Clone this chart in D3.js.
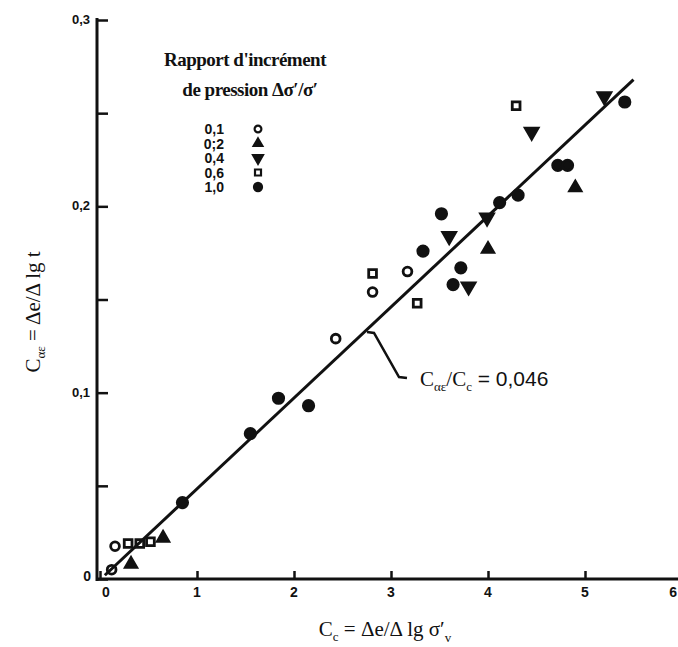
<!DOCTYPE html>
<html>
<head>
<meta charset="utf-8">
<script src="https://cdn.jsdelivr.net/npm/d3@7"></script>
<style>
  body { margin: 0; background: #fff; }
  text { fill: #111; }
</style>
</head>
<body>
<div id="chart"></div>
<script>
// values: [Cc, Cae]
var ratio01 = [[0.12, 0.005], [0.155, 0.0176], [2.43, 0.129], [2.81, 0.154], [3.17, 0.165]];
var ratio02 = [[0.32, 0.008], [0.65, 0.022], [4.0, 0.177], [4.9, 0.210]];
var ratio04 = [[3.6, 0.184], [3.8, 0.157], [3.99, 0.194], [4.45, 0.240], [5.2, 0.259]];
var ratio06 = [[0.29, 0.019], [0.41, 0.019], [0.52, 0.020], [2.81, 0.164], [3.27, 0.148], [4.29, 0.254]];
var ratio10 = [[0.85, 0.041], [1.55, 0.078], [1.84, 0.097], [2.15, 0.093], [3.33, 0.176], [3.52, 0.196],
               [3.64, 0.158], [3.72, 0.167], [4.12, 0.202], [4.31, 0.206], [4.72, 0.222], [4.82, 0.222], [5.41, 0.256]];

var legendLabels = ["0,1", "0;2", "0,4", "0,6", "1,0"];
var xTicks = [0, 1, 2, 3, 4, 5, 6];
var yTicks = [0, 0.05, 0.1, 0.15, 0.2, 0.25, 0.3];
var yTickLabels = {"0.1": "0,1", "0.2": "0,2", "0.3": "0,3"};
var fitLine = [[0.05, 0.002], [5.5, 0.268]];

var svgWidth = 678;
var svgHeight = 647;

var svg = d3.select("#chart")
    .append("svg")
    .attr("width", svgWidth)
    .attr("height", svgHeight);

var xScale = d3.scaleLinear().domain([0, 6]).range([100, 682]);
var yScale = d3.scaleLinear().domain([0, 0.3]).range([579, 20]);

// axes: ticks pointing into the plot
var xAxis = d3.axisTop(xScale).tickValues(xTicks).tickSize(8).tickFormat("");
var yAxis = d3.axisRight(yScale).tickValues(yTicks).tickSize(11).tickFormat("");

var gx = svg.append("g")
    .attr("transform", `translate(0,${yScale(0)})`)
    .call(xAxis);
gx.select(".domain").attr("d", `M97,0H678`);
var gy = svg.append("g")
    .attr("transform", `translate(97,0)`)
    .call(yAxis);
gy.select(".domain").attr("d", `M0,${yScale(0.3) - 2}V${yScale(0) + 2}`);
svg.selectAll(".domain").attr("stroke", "#111").attr("stroke-width", 3);
svg.selectAll(".tick line").attr("stroke", "#111").attr("stroke-width", 2.5);

svg.append("g").selectAll("text")
    .data(xTicks)
    .enter()
    .append("text")
    .attr("x", d => d === 6 ? 677 : xScale(d) + (d === 0 ? 6 : 0))
    .attr("y", yScale(0) + 18)
    .attr("text-anchor", d => d === 6 ? "end" : "middle")
    .style("font", "bold 14px 'Liberation Sans'")
    .text(d => d);

svg.append("g").selectAll("text")
    .data(yTicks.filter(d => yTickLabels[d]))
    .enter()
    .append("text")
    .attr("x", 90)
    .attr("y", d => yScale(d) + 4)
    .attr("text-anchor", "end")
    .style("font", "bold 13px 'Liberation Sans'")
    .text(d => yTickLabels[d]);

svg.append("text")
    .attr("x", 91)
    .attr("y", yScale(0) + 2)
    .attr("text-anchor", "end")
    .style("font", "bold 14px 'Liberation Sans'")
    .text("0");

// regression line
svg.append("line")
    .attr("x1", xScale(fitLine[0][0]))
    .attr("y1", yScale(fitLine[0][1]))
    .attr("x2", xScale(fitLine[1][0]))
    .attr("y2", yScale(fitLine[1][1]))
    .attr("stroke", "#111")
    .attr("stroke-width", 3);

// leader to annotation
svg.append("path")
    .attr("d", "M367,332L374,333L399,377L407,378")
    .attr("fill", "none")
    .attr("stroke", "#111")
    .attr("stroke-width", 2.5);

var ann = svg.append("text")
    .attr("x", 420)
    .attr("y", 386)
    .style("font", "21px 'Liberation Serif'");
ann.append("tspan").text("C");
ann.append("tspan").attr("dy", 5).style("font-size", "13px").text("αε");
ann.append("tspan").attr("dy", -5).text("/C");
ann.append("tspan").attr("dy", 5).style("font-size", "13px").text("c");
ann.append("tspan").attr("dy", -5).style("font-family", "'Liberation Sans'").text(" = 0,046");

// markers
var series = [
    {data: ratio01, type: d3.symbolCircle, fill: "none", rot: 0, size: 60},
    {data: ratio02, type: d3.symbolTriangle, fill: "#111", rot: 0, size: 55},
    {data: ratio04, type: d3.symbolTriangle, fill: "#111", rot: 180, size: 70},
    {data: ratio06, type: d3.symbolSquare, fill: "none", rot: 0, size: 60},
    {data: ratio10, type: d3.symbolCircle, fill: "#111", rot: 0, size: 85}
];

series.forEach(function(s) {
    svg.append("g").selectAll("path")
        .data(s.data)
        .enter()
        .append("path")
        .attr("d", d3.symbol().type(s.type).size(s.size))
        .attr("transform", d => `translate(${xScale(d[0])},${yScale(d[1])}) rotate(${s.rot})`)
        .attr("fill", s.fill)
        .attr("stroke", "#111")
        .attr("stroke-width", 2.8);
});

// legend
svg.append("text")
    .attr("x", 245)
    .attr("y", 66)
    .attr("text-anchor", "middle")
    .style("font", "bold 19px 'Liberation Serif'")
    .style("letter-spacing", "-0.5px")
    .text("Rapport d'incrément");
svg.append("text")
    .attr("x", 250)
    .attr("y", 96)
    .attr("text-anchor", "middle")
    .style("font", "bold 19px 'Liberation Serif'")
    .style("letter-spacing", "-0.5px")
    .text("de pression Δσ′/σ′");

var legend = svg.append("g");
series.forEach(function(s, i) {
    var ly = 129 + i * 14.5;
    legend.append("text")
        .attr("x", 224)
        .attr("y", ly + 5)
        .attr("text-anchor", "end")
        .style("font", "bold 14px 'Liberation Sans'")
        .text(legendLabels[i]);
    legend.append("path")
        .attr("d", d3.symbol().type(s.type).size(s.size * 0.6))
        .attr("transform", `translate(258,${ly}) rotate(${s.rot})`)
        .attr("fill", s.fill)
        .attr("stroke", "#111")
        .attr("stroke-width", 2.2);
});

// axis titles
var xt = svg.append("text")
    .attr("x", 385)
    .attr("y", 636)
    .attr("text-anchor", "middle")
    .style("font", "21px 'Liberation Serif'");
xt.append("tspan").text("C");
xt.append("tspan").attr("dy", 5).style("font-size", "13px").text("c");
xt.append("tspan").attr("dy", -5).text(" = Δe/Δ lg σ′");
xt.append("tspan").attr("dy", 6).style("font-size", "13px").text("v");

var yt = svg.append("text")
    .attr("transform", "translate(40,312) rotate(-90)")
    .attr("text-anchor", "middle")
    .style("font", "21px 'Liberation Serif'");
yt.append("tspan").text("C");
yt.append("tspan").attr("dy", 5).style("font-size", "13px").text("αε");
yt.append("tspan").attr("dy", -5).text(" = Δe/Δ lg t");
</script>
</body>
</html>
